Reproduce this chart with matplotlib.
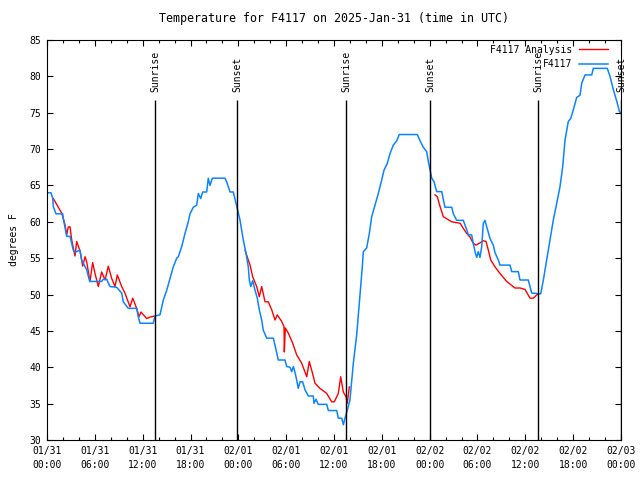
import matplotlib
matplotlib.use("Agg")
import matplotlib.pyplot as plt
from matplotlib.ticker import MultipleLocator

# hours since 2025-01-31 00:00 UTC
obs_hours = [0.16, 0.5, 0.72, 0.79, 1.13, 1.97, 2.04, 2.47, 2.89, 3.3, 3.51, 4.14, 4.35, 4.98,
             5.31, 5.39, 6.86, 7.06, 7.49, 7.9, 8.74, 9.37, 9.57, 10.2, 11.25, 11.45, 11.67,
             13.33, 13.55, 14.17, 14.59, 15.02, 15.43, 15.84, 16.27, 16.47, 16.9, 17.31, 17.72,
             17.94, 18.35, 18.78, 18.98, 19.28, 19.53, 20.03, 20.23, 20.45, 20.74, 22.33, 22.54,
             22.96, 23.37, 23.8, 24.0, 24.21, 24.62, 24.96, 25.25, 25.38, 25.55, 25.8, 26.09,
             26.38, 26.63, 26.93, 27.13, 27.56, 28.39, 28.73, 29.01, 29.85, 30.07, 30.48, 30.7,
             30.9, 31.11, 31.32, 31.52, 31.74, 32.07, 32.36, 32.78, 33.4, 33.49, 33.74, 34.03,
             35.09, 35.29, 36.34, 36.54, 36.97, 37.17, 37.38, 37.67, 38.0, 38.42, 38.85, 39.26,
             39.55, 39.68, 40.1, 40.43, 40.73, 41.14, 41.56, 41.98, 42.27, 42.69, 43.03, 43.44,
             43.87, 44.19, 46.45, 46.79, 47.2, 47.63, 47.83, 48.04, 48.26, 48.55, 48.88, 49.51,
             49.92, 50.77, 50.97, 51.39, 52.22, 52.65, 52.85, 53.27, 53.47, 53.69, 53.9, 54.1,
             54.31, 54.53, 54.73, 54.94, 55.16, 55.57, 55.98, 56.2, 56.61, 56.82, 58.08, 58.29,
             59.12, 59.33, 60.37, 60.59, 60.8, 61.93, 62.26, 62.68, 63.1, 63.51, 63.94, 64.35,
             64.69, 64.98, 65.39, 65.69, 66.02, 66.44, 66.86, 67.07, 67.49, 68.33, 68.53, 70.28,
             70.62, 71.06, 71.49, 71.82, 72.0]
obs_temp = [64.0, 64.0, 63.2, 62.1, 61.1, 61.1, 60.5, 58.0, 58.0, 56.1, 55.8, 56.1, 54.75, 53.4,
            52.0, 51.8, 51.8, 52.1, 52.1, 51.1, 51.0, 50.2, 49.0, 48.1, 48.1, 46.95, 46.05,
            46.05, 47.05, 47.2, 49.25, 50.6, 52.2, 53.8, 55.0, 55.2, 56.6, 58.4, 60.0,
            61.1, 62.0, 62.3, 63.9, 63.2, 64.1, 64.1, 66.0, 65.0, 66.0, 66.0, 65.5,
            64.1, 64.1, 62.1, 61.2, 60.25, 57.5, 55.7, 53.8, 52.0, 51.1, 51.9, 50.6,
            49.5, 47.9, 46.5, 45.1, 44.0, 44.0, 42.4, 41.0, 41.0, 40.1, 40.0, 39.4,
            40.1, 39.3, 38.25, 37.1, 38.0, 38.0, 36.9, 36.05, 36.05, 35.05, 35.6, 34.9,
            34.9, 34.05, 34.05, 33.0, 33.0, 32.1, 33.0, 34.1, 35.5, 40.5, 44.5, 50.0,
            53.8, 55.9, 56.4, 58.4, 60.7, 62.3, 63.9, 65.75, 67.1, 68.05, 69.4, 70.55,
            71.15, 72.0, 72.0, 71.15, 70.25, 69.65, 68.3, 67.2, 66.0, 65.5, 64.15, 64.15,
            62.0, 62.0, 61.1, 60.2, 60.2, 58.9, 58.2, 58.2, 57.05, 55.9, 55.1, 55.9,
            55.1, 56.6, 59.8, 60.2, 59.3, 57.7, 56.8, 55.75, 54.75, 54.05, 54.05, 53.15,
            53.15, 52.0, 52.0, 51.1, 50.2, 50.1, 52.0, 54.75, 57.5, 60.25, 62.55, 64.85,
            67.6, 71.25, 73.8, 74.2, 75.4, 77.1, 77.4, 79.05, 80.2, 80.2, 81.1, 81.1,
            80.0, 78.1, 76.5, 75.1, 75.0]

# analysis series, three pieces with gaps in between
ana_hours = [[0.79, 1.84, 2.26, 2.47, 2.67, 2.89, 3.1, 3.51, 3.72, 4.14, 4.48, 4.77, 4.98, 5.39,
              5.73, 6.02, 6.44, 6.86, 7.28, 7.69, 8.12, 8.53, 8.82, 9.37, 9.78, 10.41, 10.75,
              11.25, 11.54, 11.79, 12.51, 12.92, 13.55],
             [24.84, 25.25, 25.46, 25.8, 26.3, 26.63, 26.93, 27.35, 27.76, 28.19, 28.6, 28.89,
              29.44, 29.73, 29.77, 29.89, 30.27, 30.82, 31.32, 31.95, 32.58, 32.9, 33.2, 33.62,
              34.24, 35.09, 35.71, 36.04, 36.54, 36.84, 37.17, 37.51, 37.67, 37.92],
             [48.67, 48.96, 49.3, 49.51, 49.71, 50.18, 50.77, 51.82, 52.22, 52.65, 53.06, 53.47,
              53.81, 54.31, 54.73, 55.07, 55.36, 55.66, 56.2, 56.82, 57.66, 58.7, 59.33, 59.96,
              60.59, 61.01, 61.43, 61.63]]
ana_temp = [[63.2, 61.2, 59.6, 58.2, 59.3, 59.3, 57.5, 55.3, 57.3, 56.0, 53.9, 55.2, 54.5, 51.8,
             54.4, 52.9, 51.1, 53.1, 52.0, 53.9, 52.2, 51.1, 52.7, 51.1, 50.2, 48.3, 49.5,
             48.1, 46.95, 47.6, 46.7, 46.9, 47.05],
            [56.1, 54.75, 54.1, 52.45, 51.1, 49.7, 51.1, 49.0, 49.0, 47.9, 46.5, 47.2,
             46.3, 45.6, 42.1, 45.4, 44.7, 43.3, 41.7, 40.55, 38.7, 40.8, 39.6, 37.8,
             37.1, 36.4, 35.25, 35.25, 36.4, 38.7, 36.6, 35.95, 35.05, 37.3],
            [63.7, 63.45, 62.1, 61.4, 60.7, 60.4, 60.0, 59.8, 59.1, 58.4, 57.9, 57.05,
             56.8, 57.1, 57.4, 57.3, 56.1, 54.75, 53.8, 52.9, 51.8, 50.9, 50.9, 50.7,
             49.5, 49.5, 49.95, 50.1]]

sun_hours = [13.55, 23.85, 37.5, 48.05, 61.6, 72.0]
sun_labels = ["Sunrise", "Sunset", "Sunrise", "Sunset", "Sunrise", "Sunset"]

tick_hours = list(range(0, 73, 6))
tick_labels = ["01/31\n00:00", "01/31\n06:00", "01/31\n12:00", "01/31\n18:00",
               "02/01\n00:00", "02/01\n06:00", "02/01\n12:00", "02/01\n18:00",
               "02/02\n00:00", "02/02\n06:00", "02/02\n12:00", "02/02\n18:00",
               "02/03\n00:00"]

plt.rcParams["font.family"] = "DejaVu Sans Mono"
plt.rcParams["font.size"] = 7

fig = plt.figure(figsize=(6.4, 4.8), dpi=100)
ax = fig.add_axes([47 / 640, 40 / 480, 574 / 640, 400 / 480])

red = "#ff0000"
blue = "#0a85ff"
for i, (h, t) in enumerate(zip(ana_hours, ana_temp)):
    ax.plot(h, t, color=red, linewidth=1, label="F4117 Analysis" if i == 0 else None)
ax.plot(obs_hours, obs_temp, color=blue, linewidth=1.1, label="F4117")

top_line = 76.75
for h, lab in zip(sun_hours, sun_labels):
    ax.vlines(h, 30, top_line, color="black", linewidth=1)
    ax.text(h, 77.9, lab, rotation=90, ha="center", va="bottom", clip_on=False)

ax.set_xlim(0, 72)
ax.set_ylim(30, 85)
ax.set_xticks(tick_hours)
ax.set_xticklabels(tick_labels)
for lbl in ax.get_xticklabels():
    lbl.set_linespacing(1.55)
ax.xaxis.set_minor_locator(MultipleLocator(2))
ax.yaxis.set_major_locator(MultipleLocator(5))
ax.tick_params(which="both", direction="in", top=True, right=True, width=0.8)
ax.tick_params(which="major", length=4.5, pad=4)
ax.tick_params(which="minor", length=2.5)

ax.set_ylabel("degrees F", labelpad=8)
ax.set_title("Temperature for F4117 on 2025-Jan-31 (time in UTC)", pad=13)

ax.legend(loc="upper right", frameon=False, markerfirst=False, handlelength=2.9,
          handletextpad=0.7, labelspacing=0.45, borderaxespad=0.1,
          bbox_to_anchor=(0.985, 1.0))

fig.savefig("out.png", dpi=100)
